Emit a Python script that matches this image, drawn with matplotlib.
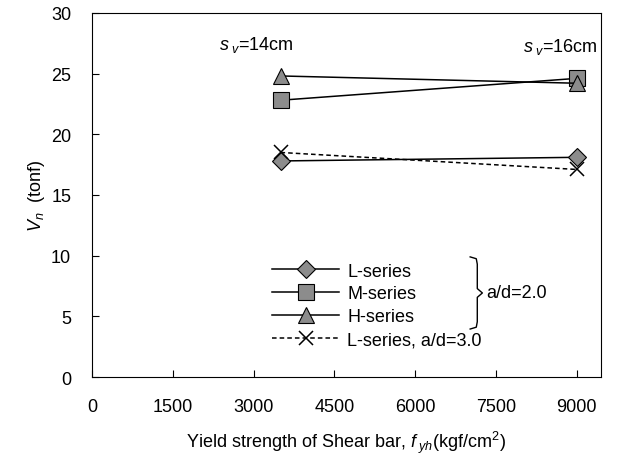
import matplotlib
matplotlib.use("Agg")
import matplotlib.pyplot as plt
from matplotlib.lines import Line2D

plt.rcParams['font.family'] = ['Liberation Sans', 'DejaVu Sans']
plt.rcParams['mathtext.fontset'] = 'custom'
plt.rcParams['mathtext.it'] = 'Liberation Sans:italic'
plt.rcParams['mathtext.rm'] = 'Liberation Sans'

# data
fyh = [3500, 9000]
lSeries = [17.8, 18.1]
mSeries = [22.8, 24.6]
hSeries = [24.8, 24.2]
lSeries3 = [18.5, 17.1]
seriesLabels = ['L-series', 'M-series', 'H-series', 'L-series, a/d=3.0']
xTicks = [0, 1500, 3000, 4500, 6000, 7500, 9000]
yTicks = [0, 5, 10, 15, 20, 25, 30]

gray = '#8c8c8c'
fs = 13

fig = plt.figure(figsize=(6.26, 4.6), dpi=100)
ax = fig.add_axes([0.147, 0.178, 0.813, 0.792])

ax.plot(fyh, lSeries, '-', color='black', lw=1.1, marker='D', ms=9.5,
        mfc=gray, mec='black', mew=0.8, label=seriesLabels[0])
ax.plot(fyh, mSeries, '-', color='black', lw=1.1, marker='s', ms=11.5,
        mfc=gray, mec='black', mew=0.8, label=seriesLabels[1])
ax.plot(fyh, hSeries, '-', color='black', lw=1.1, marker='^', ms=11.5,
        mfc=gray, mec='black', mew=0.8, label=seriesLabels[2])
ax.plot(fyh, lSeries3, linestyle=(0, (3, 2)), color='black', lw=1.1, marker='x',
        ms=10, mec='black', mew=1.1, label=seriesLabels[3])

ax.set_xlim(0, 9450)
ax.set_ylim(0, 30)
ax.set_xticks(xTicks)
ax.set_yticks(yTicks)
ax.tick_params(direction='in', length=5, labelsize=fs)
ax.tick_params(axis='y', pad=15)
ax.tick_params(axis='x', pad=15)

ax.set_xlabel('Yield strength of Shear bar, $\\it{f}_{\\ yh}$(kgf/cm$^2$)',
              fontsize=fs, labelpad=10)
ax.set_ylabel('$\\it{V}_n$  (tonf)', fontsize=fs, labelpad=3)

ax.text(3050, 27.45, '$\\it{s}_{\\ v}$=14cm', fontsize=fs, ha='center', va='center')
ax.text(8690, 27.3, '$\\it{s}_{\\ v}$=16cm', fontsize=fs, ha='center', va='center')

leg = ax.legend(loc='lower left', bbox_to_anchor=(0.34, 0.06), frameon=False,
                fontsize=fs, handlelength=3.7, handletextpad=0.45,
                labelspacing=0.32, borderaxespad=0.0)

# brace grouping the a/d=2.0 series
bx, by0, by1 = 0.743, 0.132, 0.33
ym = (by0 + by1) / 2
brace = Line2D([bx, bx + 0.012, bx + 0.014, bx + 0.014, bx + 0.024,
                bx + 0.014, bx + 0.014, bx + 0.012, bx],
               [by1, by1 - 0.005, by1 - 0.02, ym + 0.012, ym, ym - 0.012,
                by0 + 0.02, by0 + 0.005, by0],
               transform=ax.transAxes, color='black', lw=1)
ax.add_line(brace)
ax.text(bx + 0.032, ym, 'a/d=2.0', transform=ax.transAxes, fontsize=fs,
        ha='left', va='center')

fig.savefig('out.png', dpi=100)
